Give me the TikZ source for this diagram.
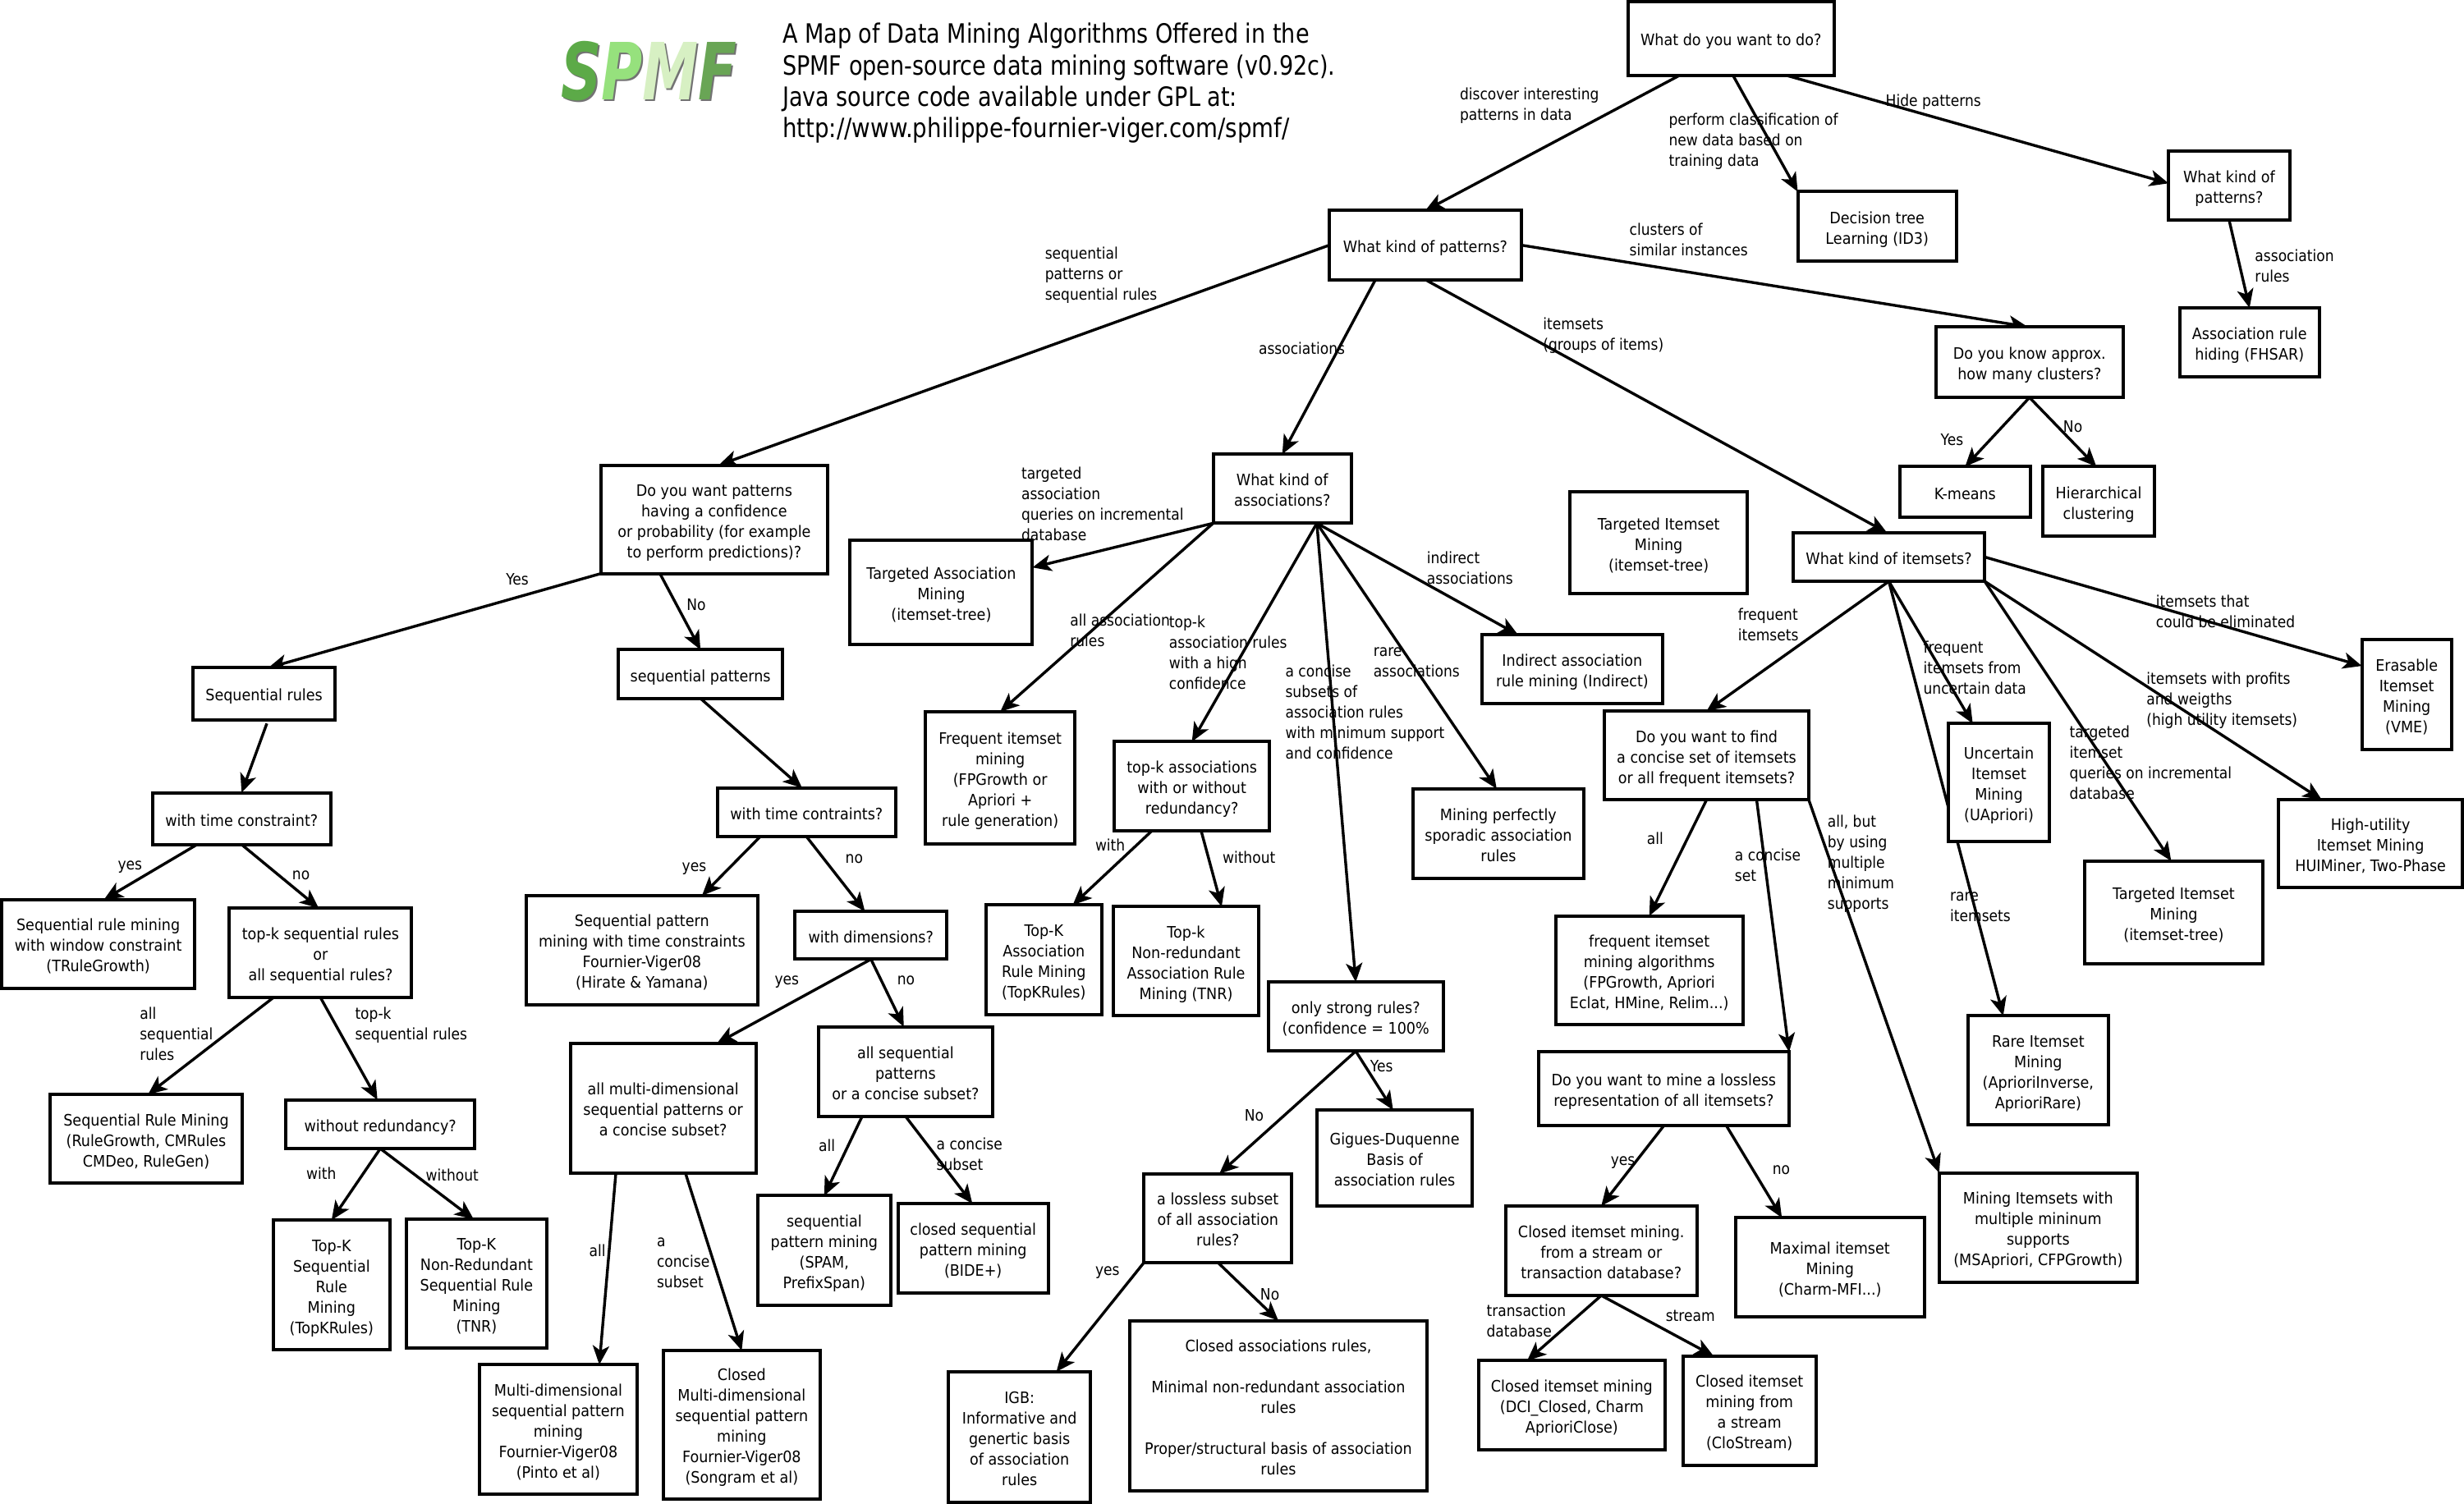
\documentclass[tikz,border=0pt]{standalone}
\usepackage{fontspec}
\setmainfont{DejaVu Sans}[FakeStretch=0.915]
\newfontfamily\labfont{DejaVu Sans}[FakeStretch=0.89]
\newfontfamily\ttlfont{DejaVu Sans}[FakeStretch=0.835]
\newfontfamily\logofont{DejaVu Sans}[FakeStretch=0.62,BoldFont={DejaVu Sans Bold}]
\usetikzlibrary{arrows.meta,calc}
\pgfdeclarelayer{edges}
\pgfsetlayers{edges,main}
\definecolor{logoA}{RGB}{92,170,72}
\definecolor{logoB}{RGB}{150,225,125}
\definecolor{logoC}{RGB}{215,240,195}
\definecolor{logoD}{RGB}{105,165,85}
\tikzset{
  box/.style={draw=black,fill=white,line width=2pt,inner sep=0pt,outer sep=0pt,align=center,font=\fontsize{9.6}{12.5}\selectfont},
  lab/.style={anchor=north west,inner sep=0pt,outer sep=0pt,align=left,font=\fontsize{9.6}{12.5}\labfont},
  ttl/.style={anchor=west,inner sep=0pt,outer sep=0pt,font=\fontsize{16.2}{19}\ttlfont},
  edge/.style={draw=black,line width=1.7pt,-{Stealth[length=11.5pt,width=10pt,inset=3pt]}},
  logo/.style={inner sep=0pt,outer sep=0pt,font=\fontsize{48}{48}\logofont\bfseries\itshape}
}
% box: name, x1,y1,x2,y2, text
\newcommand\bx[6]{%
  \pgfmathsetmacro\bxw{(#4-#2)*0.957}\pgfmathsetmacro\bxh{(#5-#3)*0.957}%
  \pgfmathsetmacro\bxx{(#2+#4)/2}\pgfmathsetmacro\bxy{(#3+#5)/2}%
  \node[box,minimum width=\bxw pt,minimum height=\bxh pt] (#1) at (\bxx,\bxy) {\rule{0pt}{12pt}#6\rule[-3pt]{0pt}{3pt}};}
% label: name, x, centre y of first line, text
\newcommand\lb[4]{\pgfmathsetmacro\lby{#3-4}\node[lab] (#1) at (#2,\lby) {#4};}
% side points
\def\ptS#1#2{($(#1.south west)!#2!(#1.south east)$)}
\def\ptN#1#2{($(#1.north west)!#2!(#1.north east)$)}
\def\ptW#1#2{($(#1.north west)!#2!(#1.south west)$)}
\def\ptE#1#2{($(#1.north east)!#2!(#1.south east)$)}
\def\lnk#1#2#3#4#5#6{\edef\lnktmp{\noexpand\draw[edge] \csname pt#1\endcsname{#2}{#3} -- \csname pt#4\endcsname{#5}{#6};}\lnktmp}
\begin{document}
\begin{tikzpicture}[x=0.957pt,y=-0.957pt]
\useasboundingbox (0,0) rectangle (1568,956.7);
% logo
\node[logo,xscale=1.15] (lgs) at (414,46.5) {\textcolor{black!55}{SPMF}};
\node[logo,xscale=1.15] (lg) at (413,45) {\textcolor{logoA}{S}\textcolor{logoB}{P}\textcolor{logoC}{M}\textcolor{logoD}{F}};
% title
\node[ttl] (t1) at (498,23) {A Map of Data Mining Algorithms Offered in the};
\node[ttl] (t2) at (498,43) {SPMF open-source data mining software (v0.92c).};
\node[ttl] (t3) at (498,63) {Java source code available under GPL at:};
\node[ttl,xscale=1.022] (t4) at (498,83) {http://www.philippe-fournier-viger.com/spmf/};
% boxes
\bx{q}{1036}{1}{1167}{48}{What do you want to do?}
\bx{dt}{1144}{122}{1245}{166}{Decision tree\\Learning (ID3)}
\bx{hk}{1380}{96}{1457}{140}{What kind of\\patterns?}
\bx{arh}{1387}{196}{1476}{240}{Association rule\\hiding (FHSAR)}
\bx{clu}{1232}{208}{1351}{253}{Do you know approx.\\how many clusters?}
\bx{km}{1209}{297}{1292}{329}{K-means}
\bx{hi}{1300}{297}{1371}{341}{Hierarchical\\clustering}
\bx{tim}{999}{313}{1112}{378}{Targeted Itemset\\Mining\\(itemset-tree)}
\bx{wki}{1141}{339}{1263}{370}{What kind of itemsets?}
\bx{pat}{846}{134}{968}{178}{What kind of patterns?}
\bx{wka}{772}{289}{860}{333}{What kind of\\associations?}
\bx{ta}{541}{344}{657}{410}{Targeted Association\\Mining\\(itemset-tree)}
\bx{ind}{943}{404}{1058}{448}{Indirect association\\rule mining (Indirect)}
\bx{fi}{589}{453}{684}{537}{Frequent itemset\\mining\\(FPGrowth or\\Apriori +\\rule generation)}
\bx{tk}{709}{472}{808}{529}{top-k associations\\with or without\\redundancy?}
\bx{mp}{899}{502}{1008}{559}{Mining perfectly\\sporadic association\\rules}
\bx{fw}{1021}{452.5}{1151}{509}{Do you want to find\\a concise set of itemsets\\or all frequent itemsets?}
\bx{dy}{382.5}{296}{526.5}{365}{Do you want patterns\\having a confidence\\or probability (for example\\to perform predictions)?}
\bx{sr}{123}{425}{213}{458}{Sequential rules}
\bx{sp}{393.5}{413.5}{498}{444.5}{sequential patterns}
\bx{wtc}{97}{504.5}{210.5}{537.5}{with time constraint?}
\bx{wtp}{456.5}{501.5}{570}{532.5}{with time contraints?}
\bx{srm}{1}{572.5}{124}{629}{Sequential rule mining\\with window constraint\\(TRuleGrowth)}
\bx{tks}{146}{578}{262}{635}{top-k sequential rules\\or\\all sequential rules?}
\bx{spm}{335}{570}{482}{639.5}{Sequential pattern\\mining with time constraints\\Fournier-Viger08\\(Hirate \& Yamana)}
\bx{wd}{506}{580}{602.5}{610.5}{with dimensions?}
\bx{srg}{32}{696.5}{154}{753}{Sequential Rule Mining\\(RuleGrowth, CMRules\\CMDeo, RuleGen)}
\bx{wr}{182}{700}{302}{731}{without redundancy?}
\bx{amd}{363}{664}{481}{746.5}{all multi-dimensional\\sequential patterns or\\a concise subset?}
\bx{asq}{521}{653.5}{631.5}{710.5}{all sequential\\patterns\\or a concise subset?}
\bx{tksr}{174}{776.5}{248}{859}{Top-K\\Sequential\\Rule\\Mining\\(TopKRules)}
\bx{tknr}{258.5}{776}{348}{858}{Top-K\\Non-Redundant\\Sequential Rule\\Mining\\(TNR)}
\bx{spam}{482}{761}{567}{830.5}{sequential\\pattern mining\\(SPAM,\\PrefixSpan)}
\bx{cs}{571.5}{766}{667}{823}{closed sequential\\pattern mining\\(BIDE+)}
\bx{mdm}{305}{868.5}{405.5}{951}{Multi-dimensional\\sequential pattern\\mining\\Fournier-Viger08\\(Pinto et al)}
\bx{cmd}{422}{859.5}{522}{954}{Closed\\Multi-dimensional\\sequential pattern\\mining\\Fournier-Viger08\\(Songram et al)}
\bx{tka}{627.5}{576}{701}{646}{Top-K\\Association\\Rule Mining\\(TopKRules)}
\bx{tkn}{708.5}{577}{801}{646.5}{Top-k\\Non-redundant\\Association Rule\\Mining (TNR)}
\bx{os}{807}{625}{918.5}{669}{only strong rules?\\(confidence = 100\%}
\bx{gg}{838}{706.5}{937}{767.5}{Gigues-Duquenne\\Basis of\\association rules}
\bx{ll}{728}{747}{822}{803.5}{a lossless subset\\of all association\\rules?}
\bx{igb}{603.5}{873}{694}{956}{IGB:\\Informative and\\genertic basis\\of association\\rules}
\bx{ca}{719}{840.5}{908}{949}{Closed associations rules,\\\\Minimal non-redundant association\\rules\\\\Proper/structural basis of association\\rules}
\bx{fia}{990}{583}{1109}{652}{frequent itemset\\mining algorithms\\(FPGrowth, Apriori\\Eclat, HMine, Relim...)}
\bx{dm}{979}{669.5}{1138.5}{716.5}{Do you want to mine a lossless\\representation of all itemsets?}
\bx{cim}{958}{767.5}{1080}{824.5}{Closed itemset mining.\\from a stream or\\transaction database?}
\bx{max}{1104.5}{775}{1224.5}{838}{Maximal itemset\\Mining\\(Charm-MFI...)}
\bx{dci}{941}{866}{1059.5}{922.5}{Closed itemset mining\\(DCI\_Closed, Charm\\AprioriClose)}
\bx{cls}{1071}{863}{1155.5}{932.5}{Closed itemset\\mining from\\a stream\\(CloStream)}
\bx{unc}{1240}{460.5}{1304}{535.5}{Uncertain\\Itemset\\Mining\\(UApriori)}
\bx{tib}{1326.5}{548}{1440}{613.5}{Targeted Itemset\\Mining\\(itemset-tree)}
\bx{rare}{1252.5}{646.5}{1341.5}{716}{Rare Itemset\\Mining\\(AprioriInverse,\\AprioriRare)}
\bx{mms}{1234}{746.5}{1360}{816}{Mining Itemsets with\\multiple mininum\\supports\\(MSApriori, CFPGrowth)}
\bx{hu}{1450}{509}{1567}{565}{High-utility\\Itemset Mining\\HUIMiner, Two-Phase}
\bx{er}{1503}{407}{1560}{477}{Erasable\\Itemset\\Mining\\(VME)}
% connectors
\begin{pgfonlayer}{edges}
\lnk{S}{q}{.25}{N}{pat}{.5}
\lnk{S}{q}{.51}{N}{dt}{0}
\lnk{S}{q}{.77}{W}{hk}{.47}
\lnk{S}{hk}{.5}{N}{arh}{.5}
\lnk{E}{pat}{.5}{N}{clu}{.49}
\lnk{S}{clu}{.5}{N}{km}{.5}
\lnk{S}{clu}{.5}{N}{hi}{.48}
\lnk{S}{pat}{.5}{N}{wki}{.49}
\lnk{S}{pat}{.24}{N}{wka}{.5}
\lnk{W}{pat}{.5}{N}{dy}{.52}
\lnk{S}{wka}{0}{E}{ta}{.26}
\lnk{S}{wka}{0}{N}{fi}{.5}
\lnk{S}{wka}{.75}{N}{tk}{.5}
\lnk{S}{wka}{.75}{N}{os}{.5}
\lnk{S}{wka}{.75}{N}{mp}{.49}
\lnk{S}{wka}{.75}{N}{ind}{.2}
\lnk{S}{dy}{0}{N}{sr}{.53}
\lnk{S}{dy}{.26}{N}{sp}{.5}
\draw[edge,shorten <=2.5pt] \ptS{sr}{.53} -- \ptN{wtc}{.5};
\lnk{S}{sp}{.5}{N}{wtp}{.475}
\lnk{S}{wtc}{.25}{N}{srm}{.53}
\lnk{S}{wtc}{.5}{N}{tks}{.49}
\lnk{S}{wtp}{.24}{N}{spm}{.76}
\lnk{S}{wtp}{.5}{N}{wd}{.46}
\lnk{S}{tks}{.24}{N}{srg}{.51}
\lnk{S}{tks}{.5}{N}{wr}{.485}
\lnk{S}{wd}{.5}{N}{amd}{.79}
\lnk{S}{wd}{.5}{N}{asq}{.49}
\lnk{S}{wr}{.5}{N}{tksr}{.5}
\lnk{S}{wr}{.5}{N}{tknr}{.48}
\lnk{S}{amd}{.245}{N}{mdm}{.76}
\lnk{S}{amd}{.62}{N}{cmd}{.5}
\lnk{S}{asq}{.25}{N}{spam}{.5}
\lnk{S}{asq}{.5}{N}{cs}{.495}
\lnk{S}{tk}{.24}{N}{tka}{.75}
\lnk{S}{tk}{.56}{N}{tkn}{.745}
\lnk{S}{os}{.5}{N}{gg}{.49}
\lnk{S}{os}{.5}{N}{ll}{.51}
\lnk{S}{ll}{0}{N}{igb}{.76}
\lnk{S}{ll}{.5}{N}{ca}{.5}
\lnk{S}{wki}{.5}{N}{fw}{.5}
\lnk{S}{wki}{.5}{N}{unc}{.24}
\lnk{S}{wki}{.5}{N}{rare}{.25}
\lnk{S}{wki}{1}{N}{tib}{.486}
\lnk{S}{wki}{1}{N}{hu}{.235}
\lnk{E}{wki}{.5}{W}{er}{.24}
\lnk{S}{fw}{1}{N}{mms}{0}
\lnk{S}{fw}{.5}{N}{fia}{.5}
\lnk{S}{fw}{.745}{N}{dm}{1}
\lnk{S}{dm}{.5}{N}{cim}{.5}
\lnk{S}{dm}{.75}{N}{max}{.245}
\lnk{S}{cim}{.5}{N}{dci}{.26}
\lnk{S}{cim}{.5}{N}{cls}{.23}
\end{pgfonlayer}
% labels
\lb{l1}{929}{60}{discover interesting\\patterns in data}
\lb{l2}{1062}{76}{perform classification of\\new data based on\\training data}
\lb{l3}{1200}{64}{Hide patterns}
\lb{l4}{1435}{163}{association\\rules}
\lb{l5}{1037}{146}{clusters of\\similar instances}
\lb{l6}{665}{161}{sequential\\patterns or\\sequential rules}
\lb{l7}{982}{206}{itemsets\\(groups of items)}
\lb{l8}{801}{222}{associations}
\lb{l9}{1235}{280}{Yes}
\lb{l10}{1313}{272}{No}
\lb{l11}{650}{301}{targeted\\association\\queries on incremental\\database}
\lb{l12}{681}{395}{all association\\rules}
\lb{l13}{744}{396}{top-k\\association rules\\with a high\\confidence}
\lb{l14}{818}{427}{a concise\\subsets of\\association rules\\with minimum support\\and confidence}
\lb{l15}{874}{416}{rare\\associations}
\lb{l16}{908}{355}{indirect\\associations}
\lb{l17}{322}{369}{Yes}
\lb{l18}{437}{385}{No}
\lb{l19}{75}{552}{yes}
\lb{l20}{186}{558}{no}
\lb{l21}{434}{553}{yes}
\lb{l22}{538}{548}{no}
\lb{l23}{89}{645}{all\\sequential\\rules}
\lb{l24}{226}{645}{top-k\\sequential rules}
\lb{l25}{195}{747}{with}
\lb{l26}{271}{748}{without}
\lb{l27}{493}{625}{yes}
\lb{l28}{571}{625}{no}
\lb{l29}{375}{796}{all}
\lb{l30}{418}{792}{a\\concise\\subset}
\lb{l31}{521}{729}{all}
\lb{l32}{596}{728}{a concise\\subset}
\lb{l33}{697}{538}{with}
\lb{l34}{778}{546}{without}
\lb{l35}{792}{710}{No}
\lb{l36}{872}{679}{Yes}
\lb{l37}{697}{810}{yes}
\lb{l38}{802}{824}{No}
\lb{l39}{1106}{391}{frequent\\itemsets}
\lb{l40}{1224}{412}{frequent\\itemsets from\\uncertain data}
\lb{l41}{1317}{466}{targeted\\itemset\\queries on incremental\\database}
\lb{l42}{1241}{572}{rare\\itemsets}
\lb{l43}{1366}{432}{itemsets with profits\\and weigths\\(high utility itemsets)}
\lb{l44}{1372}{383}{itemsets that\\could be eliminated}
\lb{l45}{1048}{534}{all}
\lb{l46}{1104}{544}{a concise\\set}
\lb{l47}{1163}{523}{all, but\\by using\\multiple\\minimum\\supports}
\lb{l48}{1025}{740}{yes}
\lb{l49}{1128}{746}{no}
\lb{l50}{946}{834}{transaction\\database}
\lb{l51}{1060}{838}{stream}
\end{tikzpicture}
\end{document}
